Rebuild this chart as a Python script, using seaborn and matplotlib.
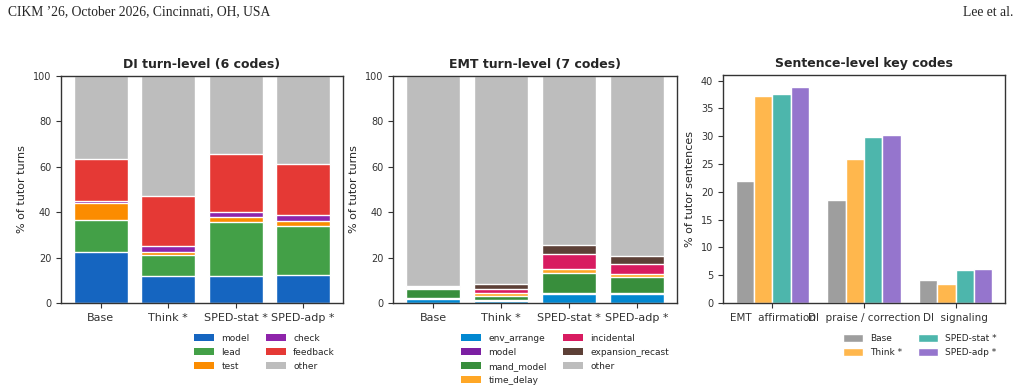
import numpy as np
import pandas as pd
import matplotlib
matplotlib.use("Agg")
import matplotlib.pyplot as plt
from matplotlib.patches import Patch
import seaborn as sns

# ---------------- data ----------------
conditions = ["Base", "Think *", "SPED-stat *", "SPED-adp *"]

# DI turn-level (% of tutor turns), segment heights
di_codes = ["model", "lead", "test", "check", "feedback", "other"]
di_model = [22.4, 11.9, 12.0, 12.3]
di_lead = [14.3, 9.1, 23.6, 21.7]
di_test = [7.3, 1.3, 2.5, 2.1]
di_check = [1.0, 3.0, 1.9, 2.5]
di_feedback = [18.6, 21.8, 25.5, 22.5]
di_other = [36.4, 52.9, 34.5, 38.9]

# EMT turn-level (% of tutor turns), segment heights
emt_codes = ["env_arrange", "model", "mand_model", "time_delay",
             "incidental", "expansion_recast", "other"]
emt_env_arrange = [1.8, 1.0, 3.9, 3.9]
emt_model = [0.2, 0.3, 0.3, 0.3]
emt_mand_model = [4.2, 2.0, 8.9, 7.1]
emt_time_delay = [0.3, 1.2, 1.7, 1.6]
emt_incidental = [0.5, 1.8, 6.6, 4.3]
emt_expansion_recast = [0.5, 2.0, 4.1, 3.6]
emt_other = [92.5, 91.7, 74.5, 79.2]

# Sentence-level key codes (% of tutor sentences)
sent_codes = ["EMT  affirmation", "DI  praise / correction", "DI  signaling"]
sent_base = [22.0, 18.6, 4.1]
sent_think = [37.3, 25.9, 3.4]
sent_stat = [37.6, 29.9, 6.0]
sent_adp = [38.9, 30.2, 6.1]

di_colors = ["#1565C0", "#43A047", "#FB8C00", "#8E24AA", "#E53935", "#BDBDBD"]
emt_colors = ["#0288D1", "#7B1FA2", "#388E3C", "#FFA726", "#D81B60", "#5D4037", "#BDBDBD"]
sent_colors = ["#9E9E9E", "#FFB74D", "#4DB6AC", "#9575CD"]

# ---------------- style ----------------
sns.set_style("ticks")
plt.rcParams["font.family"] = ["DejaVu Sans"]
plt.rcParams["axes.edgecolor"] = "#333333"
plt.rcParams["axes.linewidth"] = 1.0
plt.rcParams["xtick.color"] = "#333333"
plt.rcParams["ytick.color"] = "#333333"

fig = plt.figure(figsize=(10.21, 3.92), dpi=100)
ax1 = fig.add_axes([61 / 1021, 89 / 392, 282 / 1021, 227 / 392])
ax2 = fig.add_axes([393 / 1021, 89 / 392, 284 / 1021, 227 / 392])
ax3 = fig.add_axes([723 / 1021, 89 / 392, 282 / 1021, 228 / 392])


def stacked(ax, segments, colors, codes, title):
    segs = np.array(segments, dtype=float)
    cums = np.cumsum(segs, axis=0)
    for i in range(len(codes) - 1, -1, -1):
        df = pd.DataFrame({"cond": conditions, "val": cums[i]})
        sns.barplot(data=df, x="cond", y="val", color=colors[i], saturation=1,
                    edgecolor="white", linewidth=1.0, width=0.8, ax=ax,
                    errorbar=None)
    ax.set_ylim(0, 100)
    ax.set_xlim(-0.59, 3.59)
    ax.set_yticks([0, 20, 40, 60, 80, 100])
    ax.set_xlabel("")
    ax.set_ylabel("% of tutor turns", fontsize=8)
    ax.set_title(title, fontsize=9, fontweight="bold", pad=6)
    ax.tick_params(axis="y", labelsize=7)
    ax.tick_params(axis="x", labelsize=8)
    handles = [Patch(facecolor=c, edgecolor="none", label=l) for c, l in zip(colors, codes)]
    ax.legend(handles=handles, ncol=2, loc="upper right", bbox_to_anchor=(1.0, -0.1),
              frameon=False, fontsize=6.5, handlelength=2.2, handleheight=0.9,
              columnspacing=1.8, labelspacing=0.55)


stacked(ax1, [di_model, di_lead, di_test, di_check, di_feedback, di_other],
        di_colors, di_codes, "DI turn-level (6 codes)")
stacked(ax2, [emt_env_arrange, emt_model, emt_mand_model, emt_time_delay,
              emt_incidental, emt_expansion_recast, emt_other],
        emt_colors, emt_codes, "EMT turn-level (7 codes)")

# Sentence-level grouped bars
models = ["Base", "Think *", "SPED-stat *", "SPED-adp *"]
rows = []
for m, vals in zip(models, [sent_base, sent_think, sent_stat, sent_adp]):
    for c, v in zip(sent_codes, vals):
        rows.append({"code": c, "model": m, "val": v})
sdf = pd.DataFrame(rows)
sns.barplot(data=sdf, x="code", y="val", hue="model", palette=sent_colors,
            saturation=1, edgecolor="white", linewidth=1.0, width=0.8,
            errorbar=None, ax=ax3)
ax3.set_xlim(-0.54, 2.54)
ax3.set_ylim(0, 41)
ax3.set_yticks(range(0, 41, 5))
ax3.set_xlabel("")
ax3.set_ylabel("% of tutor sentences", fontsize=8)
ax3.set_title("Sentence-level key codes", fontsize=9, fontweight="bold", pad=6)
ax3.tick_params(axis="y", labelsize=7)
ax3.tick_params(axis="x", labelsize=7.5)
h, l = ax3.get_legend_handles_labels()
ax3.legend(h, l, ncol=2, loc="upper right", bbox_to_anchor=(1.0, -0.1),
           frameon=False, fontsize=6.5, handlelength=2.2, handleheight=0.9,
           columnspacing=1.8, labelspacing=0.55)

# page header
fig.text(8 / 1021, 1 - 12 / 392, "CIKM \u201926, October 2026, Cincinnati, OH, USA",
         family="Liberation Serif", fontsize=9.8, va="center", ha="left")
fig.text(1 - 8 / 1021, 1 - 12 / 392, "Lee et al.", family="Liberation Serif",
         fontsize=9.8, va="center", ha="right")

fig.savefig("out.png", dpi=100)
